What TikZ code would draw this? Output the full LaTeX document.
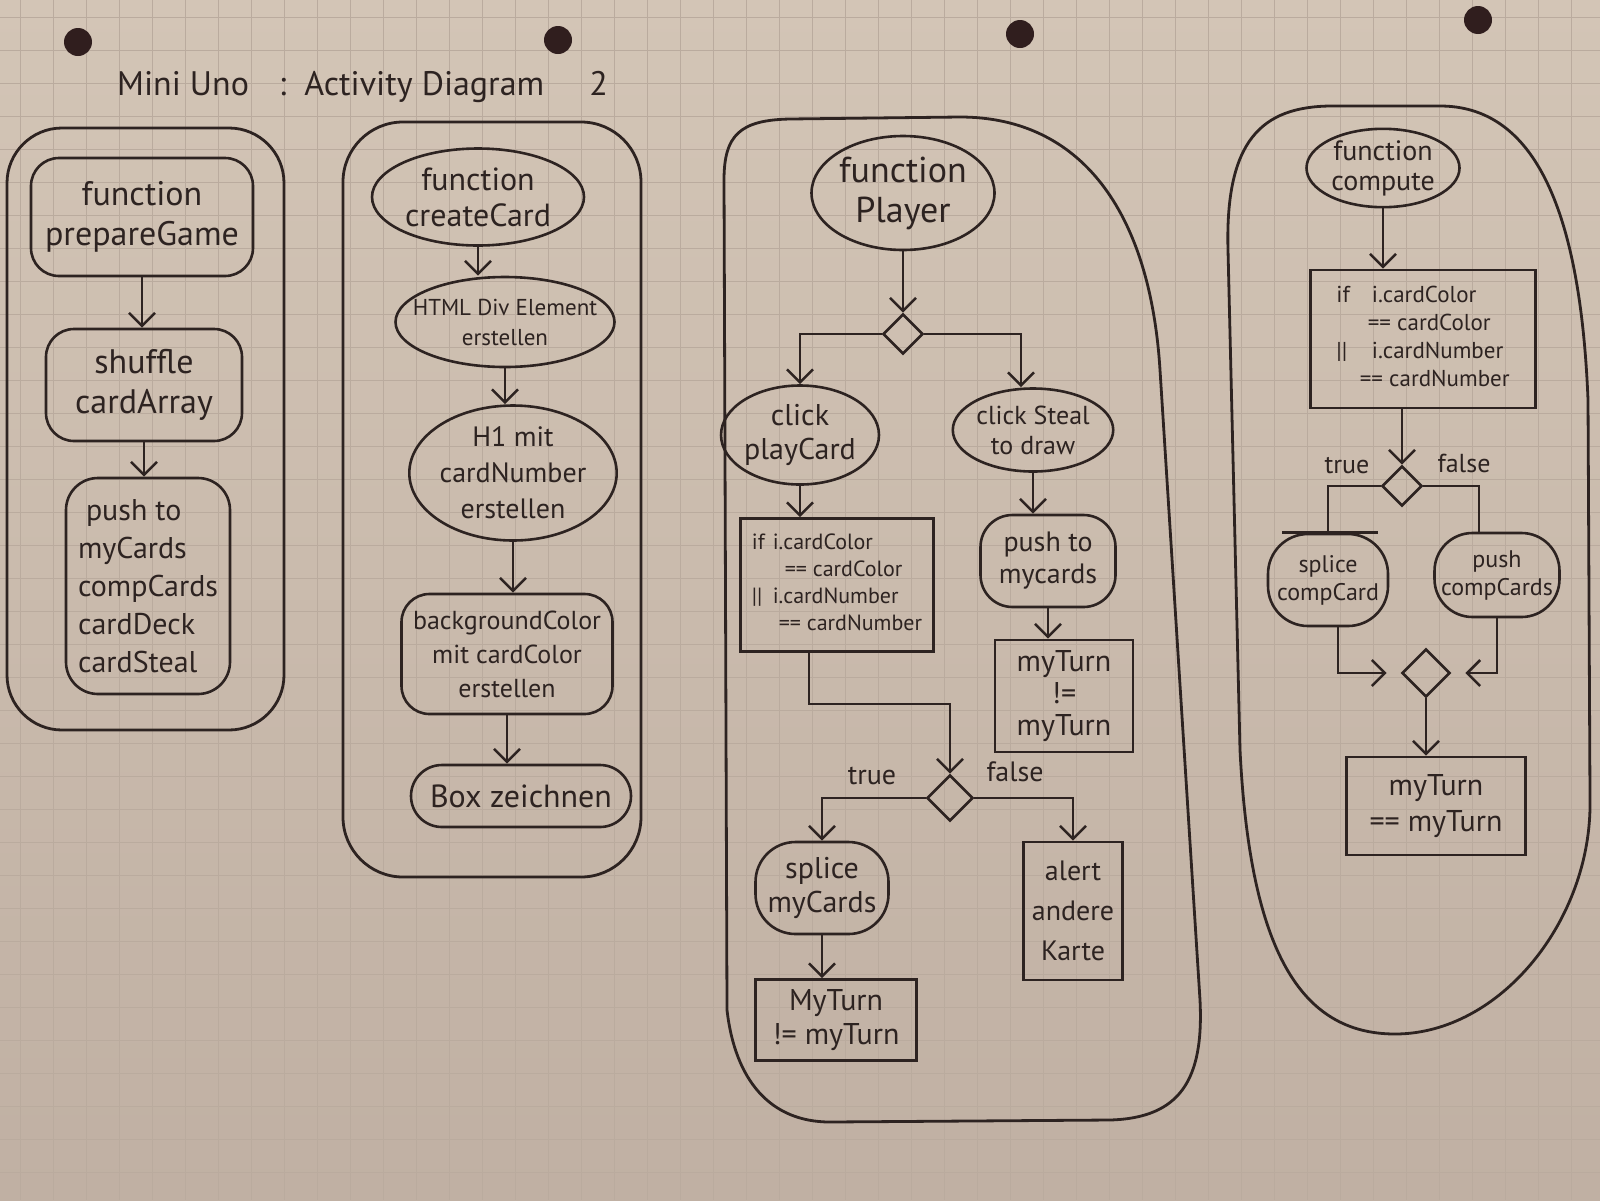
\documentclass[tikz,border=0pt]{standalone}
\usepackage{fontspec}
\setmainfont{PT Sans}
\usetikzlibrary{shapes.geometric,arrows.meta}

\definecolor{inkc}{RGB}{45,35,33}
\definecolor{paperTop}{RGB}{211,197,182}
\definecolor{paperBot}{RGB}{192,176,163}
\definecolor{gridc}{RGB}{186,171,158}
\definecolor{holec}{RGB}{48,30,30}

\tikzset{
  fs/.style 2 args={font=\fontsize{#1}{#2}\selectfont},
  ink/.style={draw=inkc, line width=2.6pt},
  lane/.style={draw=inkc, line width=2.8pt},
  act/.style={ink, rectangle, rounded corners=28pt, align=center, inner sep=0pt, text=inkc},
  oval/.style={ink, ellipse, align=center, inner sep=0pt, text=inkc},
  boxn/.style={ink, rectangle, align=center, inner sep=0pt, text=inkc},
  dec/.style={ink, diamond, inner sep=0pt, minimum size=#1},
  flow/.style={ink, -{Straight Barb[length=13pt,width=26pt]}},
  lbl/.style={text=inkc, inner sep=0pt},
  gridline/.style={draw=gridc, line width=1pt},
}

\begin{document}
\begin{tikzpicture}[x=1pt, y=-1pt]
\useasboundingbox (0,0) rectangle (1600,1200);

% squared paper
\shade[top color=paperTop, bottom color=paperBot] (0,0) rectangle (1600,1200);
\foreach \i in {0,...,48} \draw[gridline] (20+33*\i,0) -- (20+33*\i,1200);
\foreach \j in {0,...,36} \draw[gridline] (0,17+33*\j) -- (1600,17+33*\j);

% punch holes
\foreach \p in {(78,42),(558,40),(1020,34),(1478,20)}
  \fill[holec] \p circle (14pt);

% title
\node[lbl, fs={34}{38}, anchor=west] (title) at (117,87)
  {Mini Uno\hspace{30pt}:\hspace{18pt}Activity Diagram\hspace{45pt}2};

% ---------- lane 1: prepareGame ----------
\draw[lane, rounded corners=55pt] (7,128) rectangle (284,730);
\node[act, fs={34}{40}, minimum width=222pt, minimum height=118pt] (prep) at (142,217) {function\\prepareGame};
\node[act, fs={34}{40}, minimum width=196pt, minimum height=112pt] (shuf) at (144,385) {shuffle\\cardArray};
\node[act, fs={30}{38}, align=left, rounded corners=32pt, minimum width=164pt, minimum height=216pt] (push1) at (148,586)
  {\hspace{8pt}push to\\myCards\\compCards\\cardDeck\\cardSteal};
\draw[flow] (prep.south) -- (prep.south |- shuf.north);
\draw[flow] (shuf.south) -- (shuf.south |- push1.north);

% ---------- lane 2: createCard ----------
\draw[lane, rounded corners=60pt] (343,122) rectangle (641,877);
\node[oval, fs={32}{36}, minimum width=212pt, minimum height=97pt] (cc) at (478,197) {function\\createCard};
\node[oval, fs={23}{30}, minimum width=219pt, minimum height=90pt] (html) at (505,322)
  {\makebox[0pt]{HTML Div Element}\\\makebox[0pt]{erstellen}};
\node[oval, fs={28}{36}, minimum width=179pt, minimum height=135pt] (h1) at (513,473) {H1 mit\\cardNumber\\erstellen};
\node[act, fs={26}{34}, minimum width=211pt, minimum height=120pt] (bg) at (507,654) {backgroundColor\\mit cardColor\\erstellen};
\node[act, fs={32}{36}, rounded corners=31pt, minimum width=220pt, minimum height=62pt] (boxz) at (521,796) {Box zeichnen};
\draw[flow] (cc.south) -- (cc.south |- html.north);
\draw[flow] (html.south) -- (html.south |- h1.north);
\draw[flow] (h1.south) -- (h1.south |- bg.north);
\draw[flow] (bg.south) -- (bg.south |- boxz.north);

% ---------- lane 3: Player ----------
\draw[lane] (724,180) .. controls (724,135) and (740,120) .. (790,119)
  -- (960,117) .. controls (1080,117) and (1150,210) .. (1160,370)
  -- (1200,1000) .. controls (1204,1080) and (1180,1118) .. (1110,1120)
  -- (830,1122) .. controls (770,1122) and (735,1080) .. (727,1010) -- cycle;
\node[oval, fs={36}{40}, minimum width=183pt, minimum height=114pt] (pl) at (903,193) {function\\Player};
\node[dec=40pt] (d1) at (903,334) {};
\node[oval, fs={30}{34}, minimum width=156pt, minimum height=99pt] (pc) at (800,435) {click\\playCard};
\node[oval, fs={26}{30}, minimum width=151pt, minimum height=83pt] (st) at (1033,430) {click Steal\\to draw};
\node[boxn, fs={22}{27}, minimum width=193pt, minimum height=133pt] (ifP) at (837,585)
  {\begin{tabular}{@{}l@{\hspace{8pt}}l@{}}
    if & i.cardColor\\
       & \hspace{12pt}== cardColor\\
    || & i.cardNumber\\
       & \hspace{6pt}== cardNumber
   \end{tabular}};
\node[act, fs={28}{32}, rounded corners=32pt, minimum width=135pt, minimum height=92pt] (pushP) at (1048,561) {push to\\mycards};
\node[boxn, fs={30}{32}, minimum width=138pt, minimum height=112pt] (mtP) at (1064,696) {myTurn\\!=\\myTurn};
\node[dec=46pt] (d2) at (950,798) {};
\node[lbl, fs={28}{30}] (t2) at (872,776) {true};
\node[lbl, fs={28}{30}] (f2) at (1015,772) {false};
\node[act, fs={30}{34}, rounded corners=40pt, minimum width=133pt, minimum height=92pt] (sm) at (822,888) {splice\\myCards};
\node[boxn, fs={28}{40}, minimum width=99pt, minimum height=138pt] (al) at (1073,911) {alert\\andere\\Karte};
\node[boxn, fs={30}{34}, minimum width=161pt, minimum height=81pt] (mm) at (836,1020) {MyTurn\\!= myTurn};
\draw[flow] (pl.south) -- (d1.north);
\draw[flow] (d1.west) -| (pc.north);
\draw[flow] (d1.east) -| ([xshift=-12pt]st.north);
\draw[flow] (pc.south) -- (pc.south |- ifP.north);
\draw[flow] (st.south) -- (st.south |- pushP.north);
\draw[flow] (pushP.south) -- (pushP.south |- mtP.north);
\draw[flow] ([xshift=-28pt]ifP.south) -- ++(0,51) -| (d2.north);
\draw[flow] (d2.west) -| (sm.north);
\draw[flow] (d2.east) -| (al.north);
\draw[flow] (sm.south) -- (sm.south |- mm.north);

% ---------- lane 4: compute ----------
\draw[lane] (1228,250) .. controls (1225,140) and (1262,107) .. (1330,106)
  -- (1440,106) .. controls (1530,106) and (1580,200) .. (1588,400)
  -- (1590,800) .. controls (1592,920) and (1500,1034) .. (1395,1034)
  .. controls (1300,1034) and (1250,950) .. (1240,750) -- cycle;
\node[oval, fs={28}{30}, minimum width=153pt, minimum height=71pt] (cp) at (1383,168) {function\\compute};
\node[boxn, fs={23}{28}, minimum width=225pt, minimum height=138pt] (ifC) at (1423,339)
  {\begin{tabular}{@{}l@{\hspace{22pt}}l@{}}
    if & i.cardColor\\
       & \hspace{-4pt}== cardColor\\
    || & i.cardNumber\\
       & \hspace{-12pt}== cardNumber
   \end{tabular}};
\node[dec=40pt] (d3) at (1402,486) {};
\node[lbl, fs={26}{28}] (t3) at (1347,466) {true};
\node[lbl, fs={26}{28}] (f3) at (1464,463) {false};
\node[act, fs={24}{28}, rounded corners=40pt, minimum width=120pt, minimum height=92pt] (sc) at (1328,580) {splice\\compCard};
\node[act, fs={24}{28}, rounded corners=38pt, minimum width=125pt, minimum height=84pt] (pcC) at (1497,575) {push\\compCards};
\node[dec=48pt] (d4) at (1426,673) {};
\node[boxn, fs={30}{36}, minimum width=179pt, minimum height=98pt] (mtC) at (1436,806) {myTurn\\== myTurn};
\draw[flow] (cp.south) -- (cp.south |- ifC.north);
\draw[flow] (ifC.south -| d3.north) -- (d3.north);
\draw[ink] (d3.west) -| (sc.north);
\draw[ink] ([xshift=-46pt]sc.north) -- ([xshift=50pt]sc.north);
\draw[ink] (d3.east) -| ([xshift=-18pt]pcC.north);
\draw[flow, shorten >=14pt] ([xshift=10pt]sc.south) |- (d4.west);
\draw[flow, shorten >=14pt] (pcC.south) |- (d4.east);
\draw[flow] (d4.south) -- (d4.south |- mtC.north);

\end{tikzpicture}
\end{document}
